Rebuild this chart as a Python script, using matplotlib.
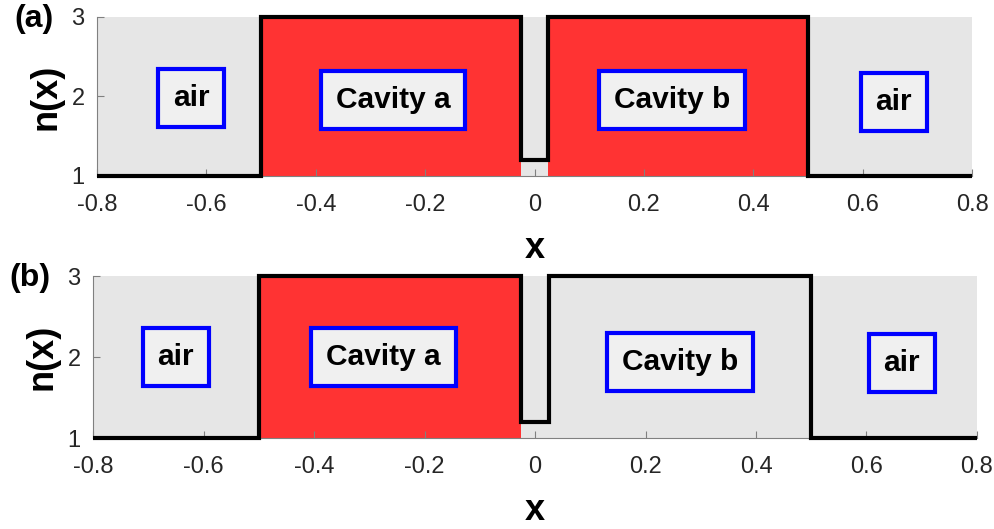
import matplotlib
matplotlib.use("Agg")
import matplotlib.pyplot as plt

plt.rcParams['font.family'] = ['Liberation Sans', 'DejaVu Sans']

# refractive index profile: edges and value on each segment
x_edges = [-0.8, -0.5, -0.025, 0.025, 0.5, 0.8]
n_vals = [1, 3, 1.2, 3, 1]

cav_a = (-0.5, -0.025)
cav_b = (0.025, 0.5)

xticks = [-0.8, -0.6, -0.4, -0.2, 0, 0.2, 0.4, 0.6, 0.8]
xtick_labels = ['-0.8', '-0.6', '-0.4', '-0.2', '0', '0.2', '0.4', '0.6', '0.8']
yticks = [1, 2, 3]

labels = ['air', 'Cavity a', 'Cavity b', 'air']
label_pos_a = [(-0.628, 1.98), (-0.259, 1.96), (0.251, 1.96), (0.657, 1.93)]
label_pos_b = [(-0.65, 2.0), (-0.274, 2.0), (0.263, 1.94), (0.664, 1.93)]

red = '#ff3333'


def draw_panel(ax, red_regions, label_pos, tag):
    ax.set_facecolor('#e6e6e6')
    for lo, hi in red_regions:
        ax.fill_between([lo, hi], 1, 3, color=red, lw=0, zorder=1)
    ax.stairs(n_vals, x_edges, baseline=None, color='black', lw=3,
              zorder=3, clip_on=False)
    ax.set_xlim(-0.8, 0.8)
    ax.set_ylim(1, 3)
    ax.set_xticks(xticks)
    ax.set_xticklabels(xtick_labels)
    ax.set_yticks(yticks)
    ax.tick_params(direction='in', length=5, width=0.8, color='gray',
                   labelsize=17, labelcolor='#262626')
    ax.tick_params(axis='x', pad=13)
    ax.tick_params(axis='y', pad=9)
    for s in ['top', 'right']:
        ax.spines[s].set_visible(False)
    for s in ['left', 'bottom']:
        ax.spines[s].set_color('gray')
        ax.spines[s].set_linewidth(0.8)
    ax.set_xlabel('x', fontsize=26, fontweight='bold', labelpad=11)
    ax.set_ylabel('n(x)', fontsize=26, fontweight='bold', labelpad=6)
    for txt, (px, py) in zip(labels, label_pos):
        ax.text(px, py, txt, ha='center', va='center', fontsize=21.5,
                fontweight='bold', zorder=5,
                bbox=dict(boxstyle='square,pad=0.5', fc='#f0f0f0',
                          ec='blue', lw=3))
    ax.text(-0.095, 0.985, tag, transform=ax.transAxes, fontsize=23,
            fontweight='bold', ha='left', va='center')


fig = plt.figure(figsize=(9.95, 5.29), dpi=100)
ax1 = fig.add_axes([0.0975, 0.6673, 0.8794, 0.3006])
ax2 = fig.add_axes([0.0935, 0.172, 0.8884, 0.3062])

draw_panel(ax1, [cav_a, cav_b], label_pos_a, '(a)')
draw_panel(ax2, [cav_a], label_pos_b, '(b)')

fig.savefig('out.png', dpi=100)
